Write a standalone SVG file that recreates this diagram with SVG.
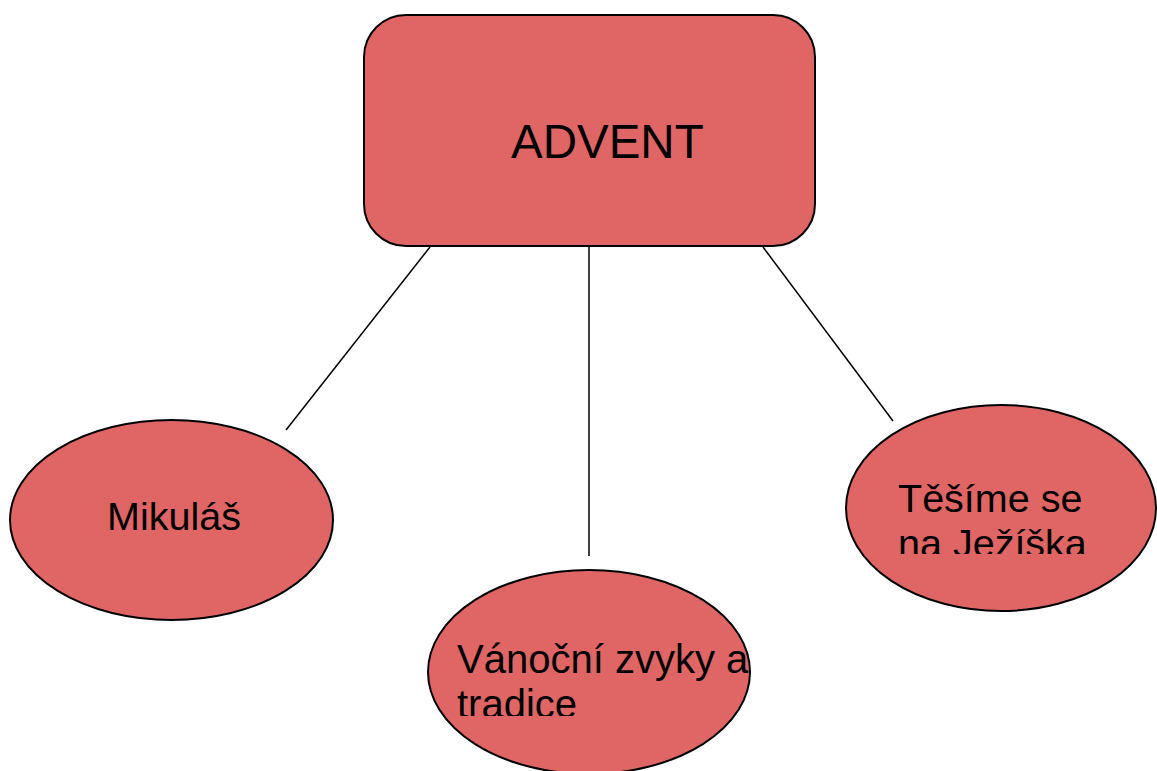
<svg xmlns="http://www.w3.org/2000/svg" width="1157" height="771" viewBox="0 0 1157 771">
<style>
.n{fill:#E06666;stroke:#000;stroke-width:2}
.t{font-family:"Liberation Sans",Arial,sans-serif;fill:#000}
.c{stroke:#000;stroke-width:1.5;fill:none}
</style>
<defs>
<clipPath id="cr"><rect x="840" y="440" width="317" height="114"/></clipPath>
<clipPath id="cb"><rect x="430" y="620" width="330" height="96"/></clipPath>
</defs>
<g id="connectors">
<line class="c" x1="430" y1="247" x2="286" y2="430"/>
<line class="c" x1="589" y1="247" x2="589" y2="556"/>
<line class="c" x1="763" y1="247" x2="893" y2="421"/>
</g>
<g id="advent">
<rect class="n" x="364" y="15" width="451" height="231" rx="42" ry="42"/>
<text class="t" x="511" y="158" font-size="47.5">ADVENT</text>
</g>
<g id="mikulas">
<ellipse class="n" cx="171.5" cy="520" rx="161.5" ry="100"/>
<text class="t" x="107" y="530" font-size="39.5">Mikuláš</text>
</g>
<g id="zvyky">
<ellipse class="n" cx="589" cy="672" rx="161" ry="102"/>
<text class="t" font-size="40" clip-path="url(#cb)"><tspan x="457" y="673">Vánoční zvyky a</tspan><tspan x="457" y="718">tradice</tspan></text>
</g>
<g id="tesime">
<ellipse class="n" cx="1001" cy="508" rx="155" ry="103"/>
<text class="t" font-size="39.5" clip-path="url(#cr)"><tspan x="898" y="512">Těšíme se</tspan><tspan x="898" y="557">na Ježíška</tspan></text>
</g>
</svg>
